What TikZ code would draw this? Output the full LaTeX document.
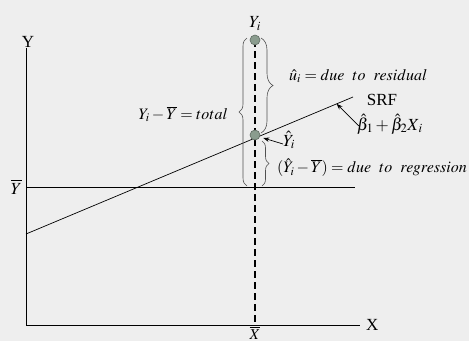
\documentclass[tikz,border=0pt]{standalone}
\usepackage[no-math]{fontspec}
\usepackage{mathptmx}
\setmainfont{Liberation Serif}
\usetikzlibrary{positioning,arrows.meta,calc,decorations.pathreplacing}
\definecolor{bgfill}{HTML}{EEEEEE}
\definecolor{ptfill}{HTML}{8A9C8E}
\definecolor{ptdraw}{HTML}{5F6B62}
\definecolor{bracecol}{HTML}{505050}
\tikzset{
    axis/.style={line width=0.9pt, color=black},
    guide/.style={line width=0.7pt, color=black},
    dashline/.style={line width=1.6pt, dash pattern=on 7pt off 4pt},
    datapt/.style={circle, draw=ptdraw, fill=ptfill, line width=0.6pt, minimum size=10pt, inner sep=0pt},
    bracket/.style={decorate, decoration={brace, amplitude=#1}, color=bracecol, line width=0.6pt},
    pointer/.style={-{Stealth[length=6pt, width=4.5pt]}, line width=0.7pt},
    lbl/.style={font=\fontsize{17}{19}\selectfont, inner sep=0pt},
    expl/.style={font=\fontsize{16}{18}\selectfont, inner sep=0pt}
}
\begin{document}
\begin{tikzpicture}[x=1pt, y=-1pt]
\fill[bgfill] (0,0) rectangle (469,341);
\useasboundingbox (0,0) rectangle (469,341);
% axes
\coordinate (origin) at (26,325);
\coordinate (ytop) at (26,48);
\coordinate (xend) at (360,325);
\draw[axis] (ytop) -- (origin) -- (xend);
\node[lbl] (ylab) at (28,42) {Y};
\node[lbl, right=6pt of xend] (xlab) {X};
% mean of Y
\coordinate (ybarl) at (26,187);
\coordinate (ybarr) at (355,187);
\draw[guide] (ybarl) -- (ybarr);
\node[lbl, left=4pt of ybarl] (ybarlab) {$\overline{Y}$};
% sample regression function
\coordinate (rstart) at (26,234);
\coordinate (rend) at (353,97);
\draw[guide] (rstart) -- (rend);
\coordinate (srfpt) at ($(rstart)!0.95!(rend)$);
% observation and fitted value
\coordinate (xbar) at (255,325);
\node[font=\fontsize{15}{17}\selectfont, inner sep=0pt, anchor=north] (xbarlab) at (255,326.5) {$\overline{X}$};
\draw[dashline] (255,40) -- (xbar);
\node[datapt] (yi) at (255,40) {};
\node[datapt] (yhat) at (255,135) {};
\node[lbl, above=4pt of yi] (yilab) {$Y_i$};
% braces
\draw[bracket=8pt] (247,186) -- (247,38);
\draw[bracket=12pt] (261,38) -- (261,133);
\draw[bracket=7pt] (262,141) -- (262,186);
% labels
\node[expl, anchor=east] (totlab) at (228,114) {$Y_i-\overline{Y}=total$};
\node[expl, anchor=west] (reslab) at (289,76) {$\hat{u}_i=due\ \ to\ \ residual$};
\node[expl, anchor=west] (reglab) at (277,168) {$(\hat{Y}_i-\overline{Y})=due\ \ to\ \ regression$};
\node[lbl] (srflab) at (382,100) {SRF};
\node[lbl, anchor=west] (betalab) at (357,124) {$\hat{\beta}_1+\hat{\beta}_2X_{\,i}$};
\node[lbl, anchor=west] (yhatlab) at (283,140) {$\hat{Y}_i$};
\draw[pointer] (betalab.west) ++(2,2) -- (srfpt);
\draw[pointer] (yhatlab.west) ++(0,4) -- ($(yhat.east)+(3,3)$);
\end{tikzpicture}
\end{document}
